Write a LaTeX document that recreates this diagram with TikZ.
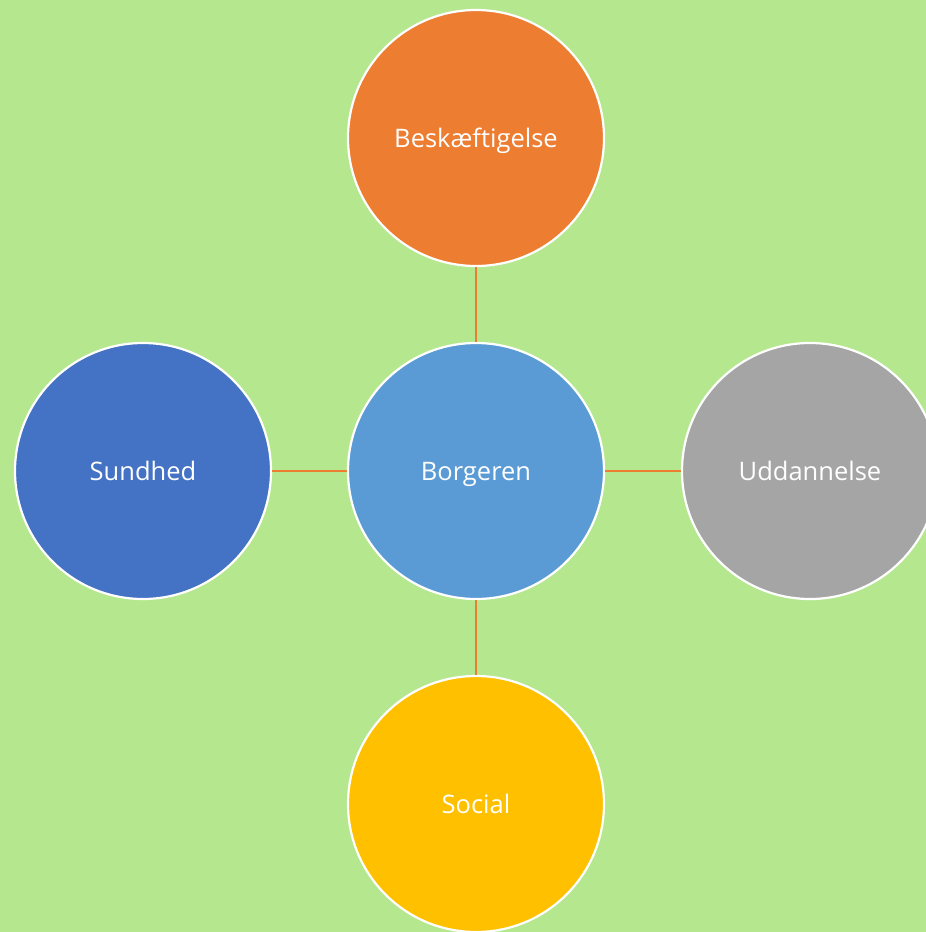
\documentclass[tikz,border=0pt]{standalone}
\usepackage{fontspec}
\setmainfont{Open Sans}
\definecolor{bggreen}{HTML}{B5E78F}
\definecolor{corange}{HTML}{ED7D31}
\definecolor{cblue}{HTML}{5B9BD5}
\definecolor{cdblue}{HTML}{4472C4}
\definecolor{cgray}{HTML}{A5A5A5}
\definecolor{cyellow}{HTML}{FFC000}
\begin{document}
\begin{tikzpicture}[x=1pt,y=-1pt,
  bubble/.style={circle,draw=white,line width=2.2pt,minimum size=256pt,inner sep=0pt,text=white,font=\fontsize{25.5}{30}\selectfont,text height=21pt,text depth=2pt},
  link/.style={draw=corange,line width=2.4pt}]
\useasboundingbox (0,0) rectangle (926,932);
\clip (0,0) rectangle (926,932);
\fill[bggreen] (0,0) rectangle (926,932);
\node[bubble,fill=cblue] (center) at (476,471) {Borgeren};
\node[bubble,fill=corange] (top) at (476,138) {Beskæftigelse};
\node[bubble,fill=cdblue] (left) at (143,471) {Sundhed};
\node[bubble,fill=cgray] (right) at (810,471) {Uddannelse};
\node[bubble,fill=cyellow] (bottom) at (476,804) {Social};
\draw[link] (center) -- (top);
\draw[link] (center) -- (left);
\draw[link] (center) -- (right);
\draw[link] (center) -- (bottom);
\end{tikzpicture}
\end{document}
